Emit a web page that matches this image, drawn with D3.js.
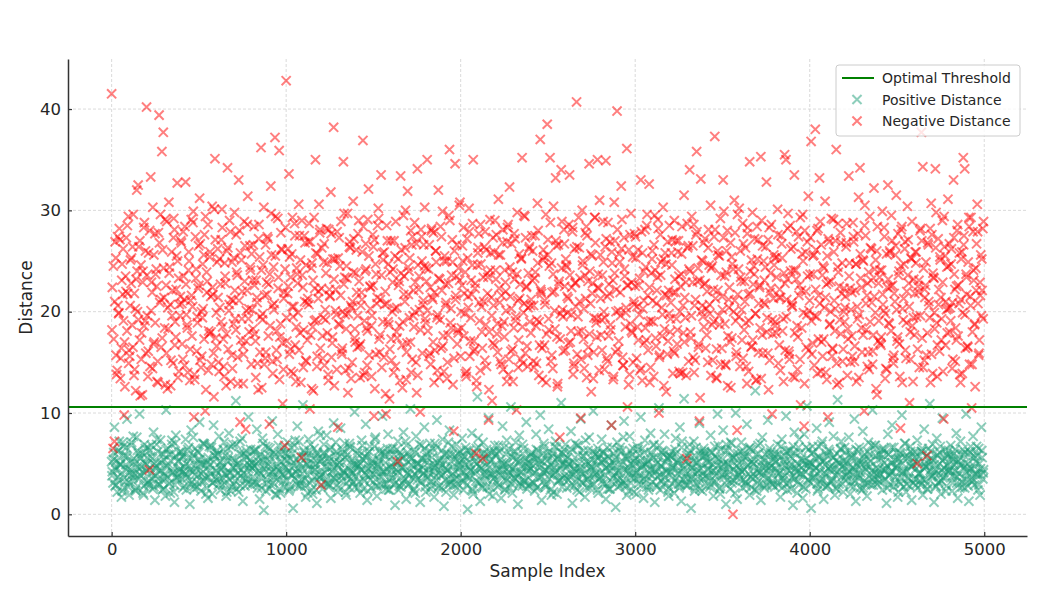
<!DOCTYPE html>
<html>
<head>
<meta charset="utf-8">
<script src="https://cdn.jsdelivr.net/npm/d3@7"></script>
<style>
  body { margin: 0; background: #fff; }
  svg { font-family: "DejaVu Sans", sans-serif; }
</style>
</head>
<body>
<div id="chart"></div>
<script>
// subset of the 5000 samples: set A sits at index i*8, set B at i*8+4, set C at i*8+2
const SAMPLE_STEP = 8;
const OFFSET_B = 4;
const OFFSET_C = 2;
const threshold = 10.6;
const xTicks = [0, 1000, 2000, 3000, 4000, 5000];
const yTicks = [0, 10, 20, 30, 40];

const negativeDistance = [
  41.5, 6.5, 7.2, 25.3, 14.2, 19.8, 27.1, 16.4, 21.7, 9.8, 23.5, 18.1, 29.4, 15.6, 22.8, 26.4, 13.7, 20.3, 32.0, 32.5, 17.2, 24.6, 11.8, 28.3, 19.1,
  40.2, 13.6, 4.4, 33.3, 21.9, 16.8, 27.7, 24.2, 15.1, 39.4, 29.6, 35.8, 37.7, 18.4, 22.6, 12.4, 30.8, 20.7, 25.9, 14.9, 28.1, 17.5, 32.7, 23.3, 19.6,
  26.8, 15.3, 21.2, 32.8, 18.7, 24.1, 13.2, 29.1, 20.5, 9.6, 27.4, 16.1, 22.3, 31.2, 14.5, 19.4, 25.6, 10.2, 23.9, 28.6, 17.8, 21.5, 30.4, 15.9, 35.1,
  19.9, 26.2, 14.1, 22.7, 30.1, 17.3, 24.8, 12.7, 34.2, 20.1, 27.9, 15.7, 21.1, 29.8, 18.2, 23.6, 33.0, 9.1, 25.1, 16.6, 28.9, 8.4, 22.1, 19.3, 26.5,
  14.8, 23.1, 28.4, 17.1, 21.4, 12.3, 25.4, 36.2, 19.2, 30.3, 15.4, 22.9, 27.2, 8.9, 32.4, 20.6, 24.4, 37.2, 16.2, 29.2, 35.9, 18.8, 26.1, 14.3, 6.8,
  42.8, 21.8, 33.6, 16.3, 25.7, 19.5, 28.7, 13.1, 23.7, 30.6, 17.9, 5.6, 22.4, 27.5, 15.2, 20.9, 26.9, 10.4, 24.3, 18.5, 29.3, 35.0, 14.6, 21.3, 27.8,
  2.9, 17.6, 24.9, 20.2, 28.2, 13.8, 22.2, 31.8, 16.9, 38.2, 25.2, 19.7, 8.6, 27.3, 21.6, 15.8, 34.8, 23.4, 18.3, 29.7, 14.4, 26.3, 20.4, 30.9, 17.4,
  23.8, 16.5, 29.0, 13.5, 21.9, 36.9, 19.1, 26.7, 14.7, 32.1, 22.5, 18.6, 27.6, 9.7, 24.7, 20.8, 30.2, 16.0, 33.5, 25.8, 15.5, 22.0, 28.5, 19.0, 11.4,
  27.0, 20.0, 14.0, 25.5, 18.0, 5.2, 23.0, 33.4, 16.7, 29.5, 21.0, 13.3, 31.9, 24.0, 17.0, 26.6, 19.6, 28.8, 15.0, 34.1, 22.2, 10.1, 27.4, 20.7, 24.5,
  18.9, 35.0, 24.2, 15.9, 28.0, 21.2, 13.0, 26.0, 19.4, 32.0, 23.2, 16.4, 29.9, 14.1, 22.7, 25.0, 17.7, 36.0, 20.3, 27.1, 8.2, 34.6, 23.5, 18.2, 30.5,
  15.6, 22.6, 28.3, 19.8, 13.6, 25.3, 30.2, 17.1, 21.7, 35.0, 16.3, 6.0, 24.6, 27.7, 14.2, 20.5, 5.5, 26.4, 18.7, 23.8, 9.3, 29.1, 21.4, 16.9, 25.9,
  24.1, 17.8, 31.1, 20.9, 14.8, 26.8, 19.0, 22.9, 13.1, 28.6, 32.3, 16.1, 23.9, 18.4, 27.2, 10.3, 21.1, 25.7, 15.3, 35.2, 19.9, 29.4, 22.4, 14.6, 26.2,
  20.6, 27.5, 15.1, 23.3, 18.6, 30.7, 13.7, 37.0, 21.8, 25.1, 16.7, 29.6, 38.5, 19.3, 35.2, 24.8, 14.4, 22.0, 33.2, 17.5, 26.6, 7.6, 34.0, 20.2, 28.1,
  16.2, 24.4, 21.3, 33.5, 18.1, 27.9, 14.9, 22.8, 40.7, 19.5, 26.3, 9.5, 30.0, 17.3, 23.6, 28.4, 15.7, 34.6, 20.8, 25.5, 13.4, 29.3, 18.9, 35.0, 22.3,
  25.6, 19.2, 28.9, 14.3, 34.9, 21.5, 17.6, 26.9, 8.8, 23.1, 30.8, 16.0, 39.8, 20.1, 24.9, 32.4, 15.5, 27.3, 18.5, 36.1, 22.6, 13.8, 29.7, 17.9, 21.0,
  22.5, 15.4, 26.1, 19.7, 33.0, 13.2, 24.0, 28.1, 17.2, 21.6, 32.6, 14.5, 25.2, 19.0, 29.5, 16.6, 23.4, 10.0, 27.6, 20.4, 30.3, 18.3, 24.7, 15.8, 22.1,
  18.0, 25.8, 13.9, 29.0, 21.9, 16.8, 27.0, 20.0, 23.7, 14.0, 31.5, 19.4, 5.5, 26.5, 34.0, 17.4, 22.9, 28.6, 15.2, 35.8, 24.3, 9.2, 33.1, 20.6, 26.8,
  27.2, 20.3, 15.0, 24.6, 30.5, 18.7, 22.2, 37.3, 13.5, 26.0, 19.6, 29.2, 16.4, 33.0, 23.5, 14.7, 28.0, 21.2, 17.0, 25.4, 0.0, 31.0, 19.1, 8.3, 24.2,
  14.6, 23.0, 28.7, 18.2, 26.3, 12.9, 21.7, 34.8, 16.5, 29.8, 24.5, 19.8, 13.3, 27.1, 22.4, 35.3, 17.7, 25.0, 20.7, 32.8, 15.9, 28.3, 23.8, 9.9, 21.3,
  25.3, 17.9, 30.1, 21.4, 14.2, 26.7, 19.3, 35.5, 35.0, 23.2, 16.1, 28.5, 20.9, 13.6, 33.5, 24.1, 18.6, 27.4, 15.3, 22.1, 29.6, 8.7, 25.9, 19.7, 31.4,
  21.1, 36.8, 16.9, 25.6, 38.0, 19.5, 28.2, 33.2, 14.1, 23.6, 17.3, 30.9, 22.7, 9.6, 26.9, 20.0, 15.6, 29.1, 18.1, 36.0, 24.4, 13.0, 27.8, 21.8, 16.3,
  19.0, 26.4, 13.7, 33.4, 22.3, 17.6, 28.8, 15.1, 24.7, 20.5, 31.3, 34.2, 18.4, 25.1, 10.2, 27.5, 21.6, 16.0, 29.4, 23.1, 14.8, 32.2, 19.9, 26.0, 17.1,
  23.4, 16.7, 29.9, 20.1, 13.4, 25.7, 32.5, 18.8, 22.5, 27.0, 14.9, 21.0, 31.5, 17.5, 24.0, 8.5, 28.4, 19.2, 26.2, 15.4, 30.4, 22.8, 18.0, 25.2, 13.1,
  17.7, 24.8, 5.0, 21.9, 28.0, 37.7, 34.3, 15.2, 22.6, 5.8, 26.6, 19.4, 30.7, 13.9, 23.3, 34.1, 18.9, 27.2, 16.1, 21.4, 29.0, 9.4, 25.5, 20.2, 31.1,
  26.7, 19.1, 14.4, 33.0, 22.2, 17.2, 28.6, 20.8, 13.0, 25.9, 35.2, 34.1, 23.7, 16.6, 29.3, 21.5, 10.5, 27.9, 18.7, 24.3, 30.6, 15.7, 22.9, 19.6, 28.2
];

const negativeDistanceB = [
  22.4, 17.3, 26.9, 13.8, 20.6, 28.2, 15.4, 24.7, 19.1, 12.6, 27.3, 21.8, 16.2, 25.1, 18.7, 29.6, 14.3, 23.2, 20.0, 26.4, 11.7, 17.9, 24.0, 28.8, 15.9,
  19.6, 25.8, 14.6, 22.9, 30.3, 17.0, 23.7, 13.1, 27.8, 20.9, 16.5, 26.1, 21.4, 12.8, 28.9, 18.3, 24.4, 15.2, 22.1, 29.2, 19.0, 25.5, 13.5, 20.7, 27.0,
  16.8, 23.5, 28.4, 19.7, 14.0, 25.0, 21.1, 17.6, 29.9, 13.3, 24.2, 18.9, 22.6, 26.7, 15.6, 20.3, 27.6, 12.3, 23.0, 18.1, 25.9, 14.8, 21.7, 30.1, 17.4,
  24.9, 15.0, 20.4, 27.1, 18.5, 13.6, 22.8, 26.0, 16.3, 29.0, 21.2, 14.4, 25.3, 19.3, 23.9, 12.9, 28.0, 17.2, 22.0, 15.8, 26.5, 20.1, 31.4, 18.0, 24.1,
  20.2, 26.6, 17.8, 23.1, 14.9, 28.6, 19.5, 12.5, 24.6, 21.6, 16.0, 27.4, 22.7, 18.6, 25.6, 13.9, 20.8, 29.4, 15.3, 23.4, 17.5, 26.2, 10.9, 21.9, 28.3,
  17.1, 22.5, 25.4, 14.1, 29.3, 20.5, 16.7, 24.3, 19.9, 27.5, 13.0, 23.6, 18.2, 26.8, 15.1, 21.3, 28.7, 17.7, 24.8, 12.2, 22.3, 19.2, 25.7, 30.6, 16.4,
  26.3, 19.4, 14.7, 23.8, 17.9, 28.1, 21.5, 15.5, 25.2, 12.7, 22.2, 27.9, 18.8, 24.5, 16.1, 20.0, 29.7, 14.2, 23.3, 19.8, 26.9, 13.4, 21.0, 27.2, 17.0,
  21.9, 27.7, 16.6, 20.6, 25.9, 13.7, 24.0, 18.4, 29.1, 15.7, 22.4, 19.6, 26.4, 12.4, 23.7, 28.5, 17.3, 21.2, 14.5, 25.1, 20.7, 9.9, 27.0, 18.7, 23.9,
  15.2, 24.2, 20.3, 28.9, 17.4, 22.6, 13.2, 26.1, 19.0, 23.5, 30.0, 16.9, 21.7, 25.3, 14.0, 27.4, 18.5, 22.9, 12.0, 24.6, 20.2, 28.1, 15.9, 26.6, 19.3,
  23.0, 18.1, 26.6, 14.8, 21.4, 27.8, 16.2, 24.9, 19.7, 13.5, 28.4, 22.1, 17.6, 25.5, 20.9, 15.0, 29.5, 18.9, 23.6, 12.8, 26.0, 21.6, 16.8, 24.3, 30.8,
  18.4, 25.0, 21.8, 13.9, 27.2, 20.4, 15.6, 23.1, 28.7, 17.1, 22.8, 12.6, 26.3, 19.1, 24.7, 16.4, 21.0, 27.9, 14.6, 23.4, 18.0, 25.8, 11.2, 20.6, 29.0,
  27.6, 16.0, 22.3, 25.6, 18.6, 14.3, 24.1, 20.1, 28.3, 15.3, 21.5, 26.7, 13.1, 23.2, 19.5, 29.8, 17.2, 22.7, 25.2, 14.9, 20.8, 27.3, 16.6, 23.8, 19.0,
  21.2, 26.0, 14.5, 23.9, 19.2, 28.0, 16.7, 22.0, 13.3, 25.4, 20.7, 17.8, 27.1, 24.5, 15.1, 21.9, 30.4, 18.3, 26.5, 12.9, 23.0, 19.8, 28.9, 16.1, 22.5,
  24.6, 19.9, 28.6, 17.0, 22.4, 13.8, 26.2, 20.5, 15.8, 29.3, 23.3, 18.1, 25.0, 14.4, 21.3, 27.5, 16.5, 24.0, 12.1, 22.8, 19.4, 26.8, 17.5, 23.7, 31.0,
  17.7, 23.6, 20.0, 26.4, 15.4, 28.8, 21.8, 18.2, 24.8, 13.6, 27.0, 22.2, 16.3, 25.7, 19.6, 29.1, 14.7, 23.5, 20.4, 10.6, 26.1, 18.8, 22.9, 15.0, 27.7,
  25.3, 18.5, 22.6, 14.2, 27.9, 20.3, 16.9, 24.4, 29.6, 19.0, 13.0, 23.8, 21.1, 26.6, 17.4, 22.1, 28.2, 15.7, 24.9, 19.7, 12.7, 25.8, 21.6, 17.1, 28.5,
  20.9, 27.1, 16.1, 23.2, 19.3, 25.9, 14.1, 22.5, 28.4, 17.9, 21.4, 13.7, 26.3, 24.2, 18.0, 29.4, 15.5, 20.6, 27.6, 23.0, 16.8, 11.5, 25.1, 19.5, 22.7,
  16.4, 22.0, 28.1, 19.8, 24.3, 15.2, 27.4, 21.3, 13.4, 25.6, 18.7, 23.6, 20.2, 29.9, 14.8, 26.0, 17.6, 22.4, 12.5, 24.7, 20.0, 27.8, 16.0, 21.7, 30.2,
  23.4, 17.2, 26.7, 21.0, 14.6, 28.3, 19.1, 24.0, 16.6, 22.7, 27.2, 13.2, 25.2, 20.8, 18.4, 29.0, 15.9, 23.1, 26.4, 19.4, 12.3, 21.9, 28.6, 17.8, 24.6,
  19.0, 25.4, 14.9, 22.2, 27.5, 18.1, 23.8, 16.2, 21.2, 29.7, 15.3, 26.2, 20.5, 24.1, 13.5, 27.9, 17.5, 22.6, 10.8, 25.7, 19.9, 28.0, 16.5, 23.5, 20.1,
  27.3, 15.8, 23.7, 19.6, 26.1, 13.9, 21.6, 28.9, 17.0, 24.5, 20.4, 14.0, 25.5, 22.9, 18.8, 29.2, 16.3, 21.1, 27.0, 12.8, 23.9, 19.2, 26.8, 15.1, 22.3,
  21.5, 28.7, 17.3, 24.8, 20.2, 15.6, 26.9, 22.1, 13.1, 27.7, 19.7, 23.3, 16.0, 25.0, 30.5, 18.2, 22.8, 14.3, 26.3, 20.9, 17.7, 24.2, 12.4, 28.4, 19.1,
  16.9, 24.1, 20.7, 27.4, 14.4, 22.4, 18.9, 25.8, 29.5, 15.4, 21.8, 26.5, 17.1, 23.6, 13.6, 28.1, 20.3, 24.7, 16.2, 22.0, 27.1, 11.0, 25.3, 18.6, 23.2,
  25.9, 19.5, 22.5, 14.5, 28.2, 17.4, 24.3, 21.4, 15.7, 26.8, 20.6, 13.0, 27.6, 23.4, 18.3, 29.8, 16.7, 22.2, 25.1, 19.3, 14.1, 26.4, 21.0, 17.9, 24.5,
  20.4, 26.2, 15.3, 23.7, 18.4, 28.0, 22.6, 13.8, 25.2, 19.9, 27.5, 16.4, 21.7, 24.9, 14.8, 29.3, 18.0, 23.1, 12.6, 26.7, 20.8, 17.2, 25.6, 22.1, 28.9
];

const negativeDistanceC = [
  18.2, 24.5, 21.0, 15.7, 27.4, 19.9, 13.4, 23.1, 26.2, 17.0, 22.0, 28.5, 14.9, 20.6, 25.3, 16.5, 21.8, 12.2, 24.0, 19.2, 27.0, 15.3, 22.9, 18.6, 26.0,
  23.6, 16.1, 28.0, 20.1, 14.4, 25.6, 18.9, 22.5, 13.0, 26.8, 21.2, 17.4, 24.3, 29.1, 15.9, 20.4, 23.8, 12.7, 19.6, 27.3, 16.7, 22.2, 25.0, 14.1, 21.5,
  20.8, 27.9, 14.7, 22.7, 18.4, 25.9, 16.3, 21.6, 28.8, 13.8, 23.3, 19.5, 26.5, 15.2, 20.0, 24.7, 17.3, 29.4, 21.9, 14.2, 25.4, 18.0, 22.4, 11.6, 27.1,
  16.6, 21.4, 25.2, 19.0, 28.3, 14.6, 23.5, 17.8, 26.3, 20.7, 13.1, 24.9, 18.8, 22.1, 27.6, 15.5, 21.1, 25.8, 19.3, 12.9, 23.0, 17.1, 28.6, 20.3, 24.4,
  25.7, 18.3, 22.6, 13.5, 20.9, 27.2, 16.0, 24.1, 19.8, 14.8, 26.6, 21.7, 17.6, 23.7, 29.7, 15.1, 20.2, 25.5, 18.1, 22.3, 13.3, 27.8, 16.9, 21.3, 24.2,
  19.4, 26.2, 15.8, 23.4, 20.5, 13.9, 27.5, 18.5, 22.8, 16.2, 25.1, 29.0, 14.5, 21.0, 24.6, 17.2, 20.7, 26.9, 12.4, 23.1, 19.1, 25.8, 15.6, 22.0, 28.1,
  22.3, 15.4, 26.7, 19.2, 24.8, 13.2, 21.6, 27.7, 17.5, 23.2, 20.1, 14.3, 25.3, 18.7, 28.9, 16.4, 22.7, 19.7, 24.5, 12.0, 26.4, 20.6, 15.0, 23.9, 18.3,
  26.1, 19.6, 23.0, 16.8, 21.2, 28.4, 14.0, 24.2, 18.1, 25.5, 20.3, 13.6, 22.6, 27.1, 15.8, 21.4, 29.2, 17.7, 23.6, 19.0, 25.9, 11.9, 20.8, 24.7, 16.3,
  17.3, 22.9, 27.0, 14.6, 20.4, 25.2, 18.6, 23.8, 12.5, 21.7, 26.3, 16.0, 24.4, 19.4, 28.0, 15.3, 22.1, 20.0, 26.7, 13.7, 23.5, 18.2, 25.0, 21.1, 30.3,
  24.3, 20.1, 15.6, 22.4, 28.2, 17.0, 21.9, 26.0, 14.2, 23.3, 19.2, 27.4, 16.6, 25.0, 20.6, 13.4, 22.8, 29.0, 18.4, 24.9, 15.4, 21.2, 26.6, 17.9, 23.1,
  20.0, 26.5, 17.6, 23.9, 14.1, 21.5, 27.9, 19.4, 24.6, 16.1, 22.3, 13.2, 25.8, 20.9, 28.6, 18.0, 23.4, 15.2, 26.1, 21.8, 12.3, 24.1, 19.6, 27.3, 16.7,
  23.2, 18.8, 25.6, 15.1, 21.6, 28.1, 17.5, 22.0, 26.9, 13.8, 24.4, 20.3, 16.3, 27.7, 19.1, 23.7, 14.5, 21.3, 25.3, 18.5, 29.5, 15.9, 22.5, 20.4, 26.4,
  17.9, 23.1, 20.6, 27.5, 14.9, 24.8, 19.0, 22.2, 16.4, 26.1, 21.1, 13.0, 25.6, 18.2, 28.8, 15.7, 23.7, 20.1, 27.0, 12.6, 22.7, 17.3, 24.3, 19.5, 26.7,
  25.2, 21.5, 16.9, 23.6, 19.7, 28.3, 14.6, 22.9, 26.4, 18.0, 21.0, 15.3, 24.6, 20.3, 27.8, 13.5, 23.0, 17.8, 25.7, 21.8, 16.0, 29.3, 19.3, 22.4, 14.2,
  21.3, 16.2, 24.9, 19.4, 27.2, 15.1, 22.7, 18.7, 25.9, 13.3, 23.8, 20.0, 28.1, 17.1, 21.9, 26.2, 14.7, 24.2, 19.9, 22.6, 12.8, 27.6, 18.1, 25.4, 20.7,
  27.4, 20.5, 17.2, 23.3, 14.4, 25.8, 21.1, 18.4, 28.5, 16.2, 22.4, 19.1, 26.0, 13.6, 24.1, 20.8, 29.1, 15.5, 23.6, 17.6, 25.2, 21.7, 12.1, 26.9, 19.8,
  19.3, 24.6, 21.9, 15.9, 27.0, 18.2, 23.5, 13.9, 25.7, 20.6, 17.0, 22.9, 28.7, 15.1, 24.0, 19.6, 26.5, 14.0, 21.2, 27.9, 16.5, 23.1, 20.0, 25.0, 18.5,
  22.8, 17.7, 26.3, 20.7, 13.7, 24.5, 19.0, 28.1, 16.3, 22.1, 25.5, 14.8, 21.5, 27.3, 18.8, 23.9, 12.7, 20.4, 26.8, 17.4, 24.2, 21.1, 15.6, 29.6, 19.5,
  26.0, 20.2, 15.4, 23.0, 18.9, 27.7, 14.1, 21.8, 25.1, 17.2, 23.7, 19.8, 28.4, 16.0, 22.6, 13.4, 26.5, 20.9, 24.4, 18.0, 27.1, 15.2, 22.3, 19.2, 25.6,
  18.6, 23.4, 27.6, 16.7, 21.4, 25.3, 13.1, 22.8, 19.5, 28.2, 15.8, 24.0, 20.6, 26.4, 17.9, 23.2, 14.3, 21.6, 29.3, 18.4, 25.0, 12.9, 22.0, 26.9, 16.2,
  23.7, 19.1, 25.5, 14.7, 22.2, 28.0, 17.3, 20.8, 26.6, 15.6, 24.3, 21.4, 13.3, 27.2, 18.7, 23.0, 16.4, 25.9, 20.3, 14.9, 28.7, 22.5, 17.8, 24.8, 20.0,
  20.4, 26.8, 18.3, 23.5, 15.0, 21.9, 27.4, 16.6, 24.7, 19.3, 13.5, 25.7, 22.4, 17.7, 28.5, 20.8, 14.6, 23.9, 19.0, 26.2, 16.1, 21.5, 25.1, 11.8, 22.8,
  24.1, 17.5, 21.7, 28.3, 19.8, 14.3, 23.2, 26.0, 18.1, 22.6, 15.7, 25.6, 20.2, 27.7, 16.8, 24.5, 13.0, 21.3, 26.9, 18.9, 23.6, 20.5, 15.3, 28.9, 19.4,
  21.8, 25.9, 16.3, 23.1, 19.6, 27.0, 14.5, 22.2, 24.9, 17.9, 21.0, 28.2, 15.8, 23.8, 19.9, 26.3, 13.6, 20.7, 25.4, 17.2, 22.9, 29.4, 16.7, 24.4, 20.3,
  18.0, 24.7, 20.9, 27.3, 15.1, 22.5, 17.6, 25.8, 21.2, 13.9, 26.6, 19.7, 23.4, 16.5, 28.4, 20.6, 14.8, 24.1, 18.8, 22.1, 27.9, 15.9, 21.6, 25.2, 19.3
];

const positiveDistance = [
  5.2, 3.1, 8.6, 4.4, 2.2, 6.3, 4.9, 1.7, 7.1, 3.6, 5.8, 9.4, 2.7, 4.1, 6.8, 3.3, 5.5, 2.4, 7.6, 4.6, 9.9, 3.8, 6.0, 1.9, 5.0,
  4.3, 6.6, 2.9, 5.7, 3.5, 8.1, 1.4, 4.8, 6.2, 3.0, 7.3, 5.1, 2.5, 4.0, 10.3, 3.7, 5.9, 2.1, 6.9, 4.5, 1.2, 7.8, 3.4, 5.3, 4.2,
  6.1, 2.6, 4.7, 7.4, 3.9, 5.6, 1.0, 8.3, 4.2, 2.8, 6.5, 3.2, 5.4, 9.1, 2.3, 4.9, 7.0, 3.6, 5.1, 1.6, 6.7, 4.0, 2.0, 8.8, 5.8,
  3.4, 5.9, 7.7, 2.4, 4.6, 6.4, 3.1, 1.8, 5.3, 8.0, 4.1, 2.7, 6.9, 3.8, 11.2, 5.0, 2.2, 7.2, 4.4, 1.3, 6.0, 3.5, 5.6, 9.6, 4.8,
  2.9, 4.5, 6.3, 3.2, 8.4, 5.2, 1.5, 4.0, 7.5, 0.4, 5.7, 3.0, 6.6, 2.5, 4.7, 9.2, 3.7, 5.9, 1.9, 7.9, 4.3, 2.1, 6.2, 3.3, 5.4,
  4.6, 7.1, 2.3, 5.5, 3.9, 0.6, 6.8, 4.2, 8.7, 2.8, 5.0, 3.4, 10.8, 6.1, 1.7, 4.9, 7.4, 3.1, 5.8, 2.0, 6.5, 4.4, 1.1, 8.2, 3.6,
  5.3, 2.5, 6.9, 4.1, 7.8, 3.0, 5.6, 1.6, 4.7, 9.0, 3.5, 6.2, 2.2, 5.1, 8.5, 3.8, 4.3, 7.0, 1.9, 5.9, 2.7, 6.6, 4.0, 3.2, 10.1,
  3.7, 6.0, 4.8, 2.1, 7.3, 5.4, 3.3, 8.9, 1.4, 4.5, 6.7, 2.6, 5.2, 3.9, 7.6, 1.8, 4.9, 6.3, 2.9, 9.7, 4.2, 5.7, 3.0, 7.9, 2.4,
  6.4, 3.6, 5.1, 0.9, 4.4, 7.2, 2.8, 5.8, 3.1, 8.1, 4.7, 1.5, 6.1, 3.9, 10.4, 5.5, 2.3, 4.0, 7.7, 3.4, 5.0, 1.2, 6.8, 4.6, 8.6,
  2.2, 5.6, 4.1, 7.0, 3.2, 6.5, 1.7, 4.8, 9.3, 2.6, 5.3, 3.8, 7.4, 0.8, 4.5, 6.0, 2.9, 8.3, 3.5, 5.9, 1.9, 4.2, 6.9, 3.0, 5.1,
  4.9, 7.5, 2.4, 5.7, 3.7, 0.5, 6.3, 4.3, 8.0, 2.0, 5.2, 3.3, 11.6, 6.6, 1.3, 4.6, 7.1, 3.9, 5.5, 2.7, 9.5, 4.0, 6.1, 1.8, 3.6,
  5.8, 3.1, 6.8, 4.4, 1.6, 8.7, 5.0, 2.5, 7.3, 3.8, 4.7, 10.6, 2.1, 6.2, 3.5, 5.4, 1.0, 7.8, 4.1, 2.8, 6.5, 3.3, 9.1, 5.1, 4.3,
  3.0, 6.1, 4.8, 2.3, 7.9, 5.5, 3.6, 9.8, 1.4, 4.2, 6.7, 2.7, 5.3, 8.4, 3.9, 1.9, 6.0, 4.6, 7.2, 2.0, 5.7, 3.4, 11.0, 4.9, 6.4,
  6.9, 2.6, 5.0, 3.7, 8.2, 1.1, 4.5, 7.0, 3.2, 5.9, 2.2, 9.4, 4.0, 6.3, 1.7, 5.2, 3.5, 7.6, 2.9, 4.7, 10.2, 3.9, 6.0, 2.4, 5.6,
  4.1, 7.4, 3.0, 5.4, 1.5, 6.6, 4.8, 2.5, 8.8, 3.6, 5.1, 0.7, 7.1, 4.3, 2.8, 6.2, 3.3, 9.2, 5.7, 1.9, 4.6, 7.7, 3.1, 5.9, 2.2,
  5.5, 2.0, 6.4, 3.8, 9.6, 4.9, 1.6, 7.3, 3.4, 5.2, 2.7, 8.0, 4.4, 6.8, 1.2, 5.0, 3.7, 10.5, 2.4, 6.1, 4.0, 7.9, 3.1, 5.6, 1.8,
  3.9, 6.2, 4.6, 2.1, 7.5, 5.3, 3.0, 8.6, 1.3, 4.8, 11.4, 2.9, 5.8, 3.5, 6.9, 0.6, 4.2, 7.2, 2.6, 5.1, 3.7, 9.0, 4.5, 2.3, 6.5,
  6.0, 2.8, 5.1, 3.6, 7.8, 4.3, 1.8, 6.7, 3.2, 9.9, 5.4, 2.0, 4.7, 8.3, 3.9, 1.0, 6.3, 4.9, 2.5, 7.0, 5.6, 3.3, 10.0, 1.5, 4.1,
  4.4, 7.1, 2.6, 5.7, 3.1, 8.9, 4.9, 1.9, 6.4, 3.5, 5.0, 12.2, 2.3, 6.8, 4.1, 1.4, 7.6, 3.8, 5.3, 2.9, 9.3, 4.6, 6.1, 3.0, 5.9,
  2.7, 5.2, 6.9, 4.0, 1.7, 7.4, 3.3, 5.8, 9.7, 2.4, 4.8, 6.3, 3.6, 0.9, 8.1, 4.5, 2.1, 6.6, 3.9, 5.5, 1.6, 7.9, 4.2, 10.7, 3.4,
  5.1, 0.6, 6.7, 3.7, 4.6, 8.5, 2.5, 5.6, 3.1, 7.2, 1.5, 4.9, 6.0, 2.8, 9.1, 4.3, 3.5, 7.7, 1.9, 5.3, 11.3, 3.0, 6.4, 4.7, 2.2,
  6.6, 3.4, 4.1, 7.6, 2.0, 5.7, 3.9, 9.4, 1.3, 4.8, 6.2, 2.6, 5.2, 8.2, 3.3, 4.5, 1.8, 7.1, 5.9, 2.9, 10.3, 3.6, 6.8, 4.0, 5.4,
  3.2, 5.9, 2.4, 6.5, 4.3, 1.1, 7.9, 3.8, 5.1, 8.8, 2.7, 4.6, 6.1, 1.7, 5.5, 3.0, 9.8, 4.2, 7.0, 2.2, 5.8, 3.5, 6.7, 1.4, 4.9,
  5.6, 2.9, 7.3, 4.0, 3.3, 6.2, 1.9, 8.4, 4.7, 2.5, 5.3, 10.9, 3.7, 6.9, 1.2, 4.4, 7.5, 3.1, 5.0, 2.0, 9.5, 4.1, 6.4, 2.8, 5.7,
  4.3, 6.8, 2.3, 5.4, 3.8, 8.0, 1.6, 4.9, 7.2, 3.2, 5.9, 2.6, 9.9, 4.5, 1.3, 6.1, 3.6, 7.7, 2.9, 5.2, 4.0, 6.5, 1.9, 8.6, 3.5
];

const positiveDistanceB = [
  4.2, 6.1, 2.8, 5.3, 3.7, 7.2, 4.9, 2.3, 5.8, 3.2, 6.6, 4.5, 1.9, 5.1, 3.9, 7.7, 4.0, 2.6, 6.3, 3.5, 5.5, 4.7, 2.1, 6.9, 3.0,
  5.6, 3.3, 4.6, 6.8, 2.5, 5.0, 3.8, 7.4, 4.3, 2.9, 6.0, 3.4, 5.4, 1.8, 4.8, 6.5, 3.1, 5.9, 4.1, 2.2, 7.0, 3.6, 5.2, 4.4, 6.2,
  3.5, 5.7, 4.0, 2.4, 6.4, 4.8, 3.0, 5.5, 7.6, 3.9, 4.5, 2.7, 6.1, 5.0, 3.3, 4.2, 6.9, 2.0, 5.3, 3.7, 4.9, 6.6, 3.1, 5.8, 4.3,
  6.3, 2.9, 5.1, 4.4, 3.6, 7.1, 4.0, 2.2, 5.6, 3.4, 6.7, 4.7, 3.0, 5.3, 2.5, 4.6, 6.0, 3.8, 7.5, 4.1, 2.8, 5.7, 3.5, 4.9, 6.4,
  4.6, 3.2, 6.2, 5.0, 2.6, 4.3, 5.9, 3.6, 7.0, 4.8, 2.3, 5.4, 3.9, 6.5, 4.2, 3.1, 5.7, 2.0, 4.7, 6.8, 3.4, 5.2, 4.0, 2.7, 6.0,
  5.3, 4.1, 2.5, 6.6, 3.8, 5.1, 7.3, 3.0, 4.5, 5.8, 2.8, 4.0, 6.3, 3.5, 5.6, 2.1, 4.8, 6.9, 3.3, 5.0, 4.4, 2.4, 5.9, 3.7, 7.8,
  3.9, 6.0, 4.7, 3.1, 5.5, 2.7, 6.4, 4.2, 3.6, 5.2, 7.1, 2.9, 4.6, 5.7, 3.3, 6.1, 4.0, 2.2, 5.4, 3.8, 6.7, 4.3, 3.0, 5.0, 4.9,
  5.0, 2.6, 5.8, 4.4, 6.8, 3.5, 4.1, 5.6, 2.3, 6.2, 3.9, 4.8, 3.2, 7.4, 4.5, 2.8, 5.3, 6.0, 3.7, 4.2, 5.9, 2.5, 6.5, 3.4, 4.7,
  4.4, 6.5, 3.0, 5.2, 3.8, 2.4, 6.1, 4.6, 5.5, 3.3, 7.2, 4.0, 2.9, 5.7, 4.9, 3.6, 6.4, 2.1, 5.0, 4.3, 6.9, 3.1, 5.4, 4.1, 2.7,
  6.0, 3.7, 4.8, 2.5, 5.6, 4.2, 7.0, 3.4, 5.1, 2.8, 4.6, 6.3, 3.9, 5.3, 2.2, 4.4, 5.9, 3.2, 6.7, 4.0, 3.5, 5.5, 2.6, 4.9, 6.2,
  3.3, 5.4, 4.1, 6.6, 2.9, 4.7, 3.6, 5.8, 2.3, 6.1, 4.3, 5.0, 7.5, 3.1, 4.5, 2.6, 5.7, 3.8, 6.4, 4.9, 2.0, 5.2, 4.0, 3.5, 6.8,
  4.8, 2.7, 6.2, 3.9, 5.1, 4.4, 2.4, 5.9, 3.4, 6.5, 4.1, 3.0, 5.6, 4.6, 7.1, 3.7, 2.8, 5.3, 4.2, 6.0, 3.2, 5.0, 2.5, 4.7, 5.7,
  5.9, 4.0, 3.1, 5.5, 2.6, 6.3, 4.6, 3.7, 5.2, 7.0, 2.9, 4.3, 6.1, 3.5, 4.9, 5.7, 2.2, 4.1, 6.6, 3.3, 5.4, 4.5, 2.7, 6.0, 3.8,
  3.6, 5.6, 4.9, 2.8, 6.4, 3.9, 5.1, 4.2, 2.4, 6.8, 4.6, 3.2, 5.8, 4.0, 7.3, 3.4, 5.0, 2.6, 4.4, 6.2, 3.7, 5.3, 4.8, 2.1, 5.9,
  5.2, 3.3, 6.0, 4.5, 3.0, 5.7, 2.5, 4.8, 6.6, 3.8, 5.4, 4.1, 2.7, 6.3, 3.5, 4.9, 7.6, 3.1, 5.5, 4.3, 2.3, 5.0, 4.0, 6.5, 3.6,
  4.1, 6.7, 3.5, 5.3, 2.9, 4.7, 6.1, 3.8, 5.0, 2.4, 4.5, 5.9, 3.2, 6.9, 4.2, 2.7, 5.6, 3.9, 4.8, 6.3, 3.0, 5.2, 4.4, 2.2, 5.8,
  5.7, 3.0, 4.6, 6.4, 3.6, 5.1, 2.6, 4.3, 7.2, 3.4, 5.5, 4.0, 2.9, 6.0, 4.7, 3.7, 5.3, 2.3, 6.6, 4.1, 3.2, 5.8, 4.9, 3.5, 6.2,
  3.8, 5.3, 4.4, 2.7, 6.1, 4.9, 3.3, 5.7, 4.0, 6.8, 2.5, 4.6, 5.4, 3.6, 6.3, 2.9, 5.0, 4.2, 7.1, 3.4, 5.6, 2.1, 4.8, 6.0, 3.9,
  6.2, 4.2, 3.4, 5.6, 2.8, 4.8, 6.5, 3.7, 5.2, 4.0, 2.4, 5.9, 3.1, 4.5, 7.0, 3.9, 5.4, 2.6, 4.7, 6.1, 3.5, 5.0, 4.3, 2.9, 5.7,
  4.5, 5.9, 2.9, 4.1, 6.7, 3.6, 5.2, 4.8, 3.0, 6.3, 4.3, 2.5, 5.5, 3.8, 6.0, 4.6, 3.2, 7.4, 4.0, 5.3, 2.7, 4.9, 6.6, 3.4, 5.1,
  3.1, 5.0, 6.1, 3.8, 4.6, 2.3, 5.7, 4.2, 6.9, 3.5, 5.3, 4.0, 2.8, 6.4, 4.7, 3.3, 5.6, 4.4, 2.6, 6.0, 3.9, 5.1, 7.2, 3.0, 4.8,
  5.4, 3.9, 4.7, 6.3, 3.2, 5.8, 2.7, 4.4, 5.0, 3.6, 6.6, 4.1, 2.4, 5.5, 3.0, 4.9, 6.2, 3.7, 5.2, 4.3, 2.9, 6.8, 4.6, 3.4, 5.9,
  4.0, 6.4, 3.3, 5.1, 4.5, 2.6, 5.9, 3.9, 6.6, 4.2, 3.1, 5.4, 4.8, 2.2, 6.1, 3.6, 5.0, 4.3, 7.0, 3.0, 5.6, 2.8, 4.7, 6.0, 3.5,
  6.1, 3.5, 5.2, 4.0, 2.9, 6.5, 4.6, 3.4, 5.7, 2.5, 4.9, 6.2, 3.8, 5.3, 4.1, 2.7, 5.9, 3.2, 6.7, 4.4, 3.6, 5.5, 2.3, 4.8, 6.3,
  4.7, 5.5, 3.1, 6.0, 4.3, 3.7, 5.3, 2.6, 4.9, 6.4, 3.5, 5.1, 4.2, 2.8, 6.2, 4.5, 3.3, 5.8, 4.0, 6.7, 2.4, 5.0, 3.9, 5.6, 4.4
];

const positiveDistanceC = [
  3.8, 5.4, 4.6, 2.9, 6.2, 3.4, 5.0, 4.1, 6.7, 2.6, 4.9, 5.7, 3.2, 4.4, 7.1, 3.6, 5.2, 2.3, 4.7, 6.0, 3.9, 5.6, 4.2, 2.8, 6.5,
  4.9, 3.1, 6.3, 4.0, 5.5, 2.7, 4.6, 6.9, 3.5, 5.1, 4.3, 2.4, 5.9, 3.8, 6.4, 4.7, 3.0, 5.3, 7.3, 4.1, 2.9, 5.7, 3.7, 6.1, 4.5,
  5.7, 4.2, 2.8, 5.0, 3.6, 6.6, 4.4, 3.2, 5.8, 2.5, 4.8, 6.2, 3.9, 5.4, 4.0, 7.0, 3.3, 4.9, 2.6, 5.6, 4.3, 6.8, 3.1, 5.2, 3.7,
  4.3, 6.0, 3.5, 5.2, 2.9, 4.7, 5.8, 3.8, 6.5, 4.1, 2.3, 5.5, 4.6, 3.3, 6.9, 4.0, 5.1, 2.8, 5.9, 3.6, 4.8, 6.3, 3.0, 4.5, 5.4,
  5.1, 3.7, 4.8, 6.4, 3.0, 5.6, 4.1, 2.6, 5.3, 4.5, 6.7, 3.4, 4.9, 5.8, 2.9, 4.2, 6.1, 3.6, 5.0, 4.4, 2.5, 5.9, 3.9, 6.6, 4.7,
  3.4, 5.9, 4.3, 2.7, 6.0, 4.8, 3.5, 5.4, 4.0, 7.2, 3.1, 4.6, 5.7, 2.8, 5.0, 3.9, 6.3, 4.4, 2.4, 5.5, 3.7, 4.9, 6.1, 3.2, 5.2,
  5.5, 4.0, 6.1, 3.3, 4.7, 5.2, 2.9, 6.6, 4.3, 3.6, 5.8, 4.9, 2.6, 5.1, 3.8, 6.4, 4.2, 5.6, 3.1, 4.6, 7.0, 3.5, 5.3, 4.1, 2.7,
  4.6, 6.3, 3.2, 5.0, 4.4, 2.5, 5.7, 3.9, 6.0, 4.8, 3.4, 5.3, 4.0, 6.7, 2.8, 4.9, 5.5, 3.7, 4.2, 6.2, 3.0, 5.1, 4.5, 2.4, 5.9,
  3.9, 4.7, 5.9, 3.1, 6.4, 4.2, 5.3, 2.7, 4.6, 5.7, 3.5, 6.8, 4.1, 3.0, 5.4, 4.8, 2.5, 6.1, 3.8, 5.0, 4.4, 3.3, 5.6, 4.0, 6.5,
  5.3, 3.5, 4.4, 6.2, 2.8, 5.0, 4.6, 3.8, 6.6, 4.1, 5.5, 2.6, 4.9, 5.9, 3.4, 4.3, 7.1, 3.0, 5.2, 4.7, 2.9, 5.8, 3.6, 6.0, 4.5,
  4.1, 5.8, 3.3, 4.9, 6.3, 3.7, 5.1, 4.4, 2.5, 5.6, 4.0, 6.5, 3.2, 4.7, 5.3, 2.8, 6.0, 4.2, 3.5, 5.9, 4.6, 2.7, 5.4, 3.9, 6.2,
  6.0, 4.4, 2.9, 5.4, 3.8, 4.8, 6.6, 3.3, 5.0, 4.2, 2.6, 5.7, 4.5, 3.6, 6.2, 4.0, 5.2, 3.1, 4.7, 6.9, 3.4, 5.5, 4.3, 2.8, 5.1,
  4.5, 3.2, 5.6, 4.1, 6.4, 2.7, 4.9, 5.3, 3.7, 6.0, 4.4, 3.0, 5.8, 4.6, 2.4, 5.1, 3.9, 6.7, 4.2, 5.5, 3.3, 4.8, 6.1, 3.6, 5.0,
  5.4, 4.7, 3.4, 6.1, 4.0, 5.2, 2.8, 4.5, 6.8, 3.6, 5.0, 4.2, 3.1, 5.7, 4.9, 2.6, 6.3, 3.8, 4.6, 5.4, 3.0, 5.9, 4.1, 6.5, 3.5,
  3.7, 5.1, 6.2, 3.9, 4.6, 2.5, 5.5, 4.3, 3.2, 6.0, 4.8, 5.6, 3.4, 4.1, 6.6, 3.0, 5.2, 4.4, 2.8, 5.8, 4.0, 6.3, 3.6, 4.9, 5.3,
  5.0, 4.3, 3.0, 5.8, 4.6, 6.5, 3.5, 4.9, 2.7, 5.3, 4.0, 6.1, 3.8, 5.6, 4.4, 2.9, 5.1, 6.8, 3.3, 4.7, 5.9, 3.6, 4.2, 5.5, 2.6,
  4.2, 5.6, 4.8, 3.3, 6.0, 4.0, 5.4, 3.0, 6.6, 4.5, 3.7, 5.2, 2.8, 4.9, 6.3, 3.5, 4.6, 5.8, 3.1, 5.1, 4.3, 2.5, 6.2, 4.0, 5.7,
  5.8, 3.6, 4.5, 5.2, 2.9, 6.1, 4.3, 3.8, 5.5, 4.8, 2.6, 6.4, 3.9, 5.0, 4.1, 6.9, 3.4, 4.7, 5.6, 3.1, 4.4, 6.0, 3.7, 5.3, 4.6,
  3.5, 5.2, 6.3, 4.4, 3.2, 5.7, 4.0, 6.6, 2.7, 4.9, 5.4, 3.7, 4.2, 6.0, 3.0, 5.1, 4.6, 2.8, 5.9, 4.3, 3.6, 6.5, 4.8, 3.3, 5.5,
  5.1, 4.1, 3.3, 5.9, 4.7, 2.6, 5.4, 3.8, 6.2, 4.4, 3.1, 5.7, 4.9, 6.7, 3.5, 4.2, 5.0, 2.9, 6.1, 4.6, 3.9, 5.3, 2.5, 4.8, 6.4,
  4.7, 6.0, 3.6, 4.3, 5.5, 3.0, 6.7, 4.9, 3.4, 5.2, 4.1, 2.7, 5.8, 4.5, 6.2, 3.2, 4.8, 5.6, 3.9, 2.5, 5.1, 4.4, 6.5, 3.7, 5.3,
  6.1, 3.8, 5.0, 4.2, 2.8, 5.6, 4.6, 3.3, 6.4, 4.0, 5.3, 3.6, 4.9, 2.6, 5.9, 4.4, 3.1, 5.5, 4.7, 6.8, 3.4, 4.1, 5.8, 3.0, 4.5,
  3.9, 5.5, 4.4, 6.3, 3.5, 4.8, 5.9, 2.9, 4.2, 5.1, 6.6, 3.7, 4.6, 5.4, 3.2, 6.0, 4.0, 2.7, 5.7, 4.3, 3.6, 5.0, 6.2, 4.7, 3.1,
  5.2, 4.5, 2.6, 5.7, 4.1, 6.2, 3.4, 5.0, 4.7, 3.0, 6.5, 4.3, 5.5, 3.8, 4.9, 2.8, 5.8, 4.0, 6.1, 3.3, 5.3, 4.6, 3.6, 5.9, 4.2,
  4.4, 5.7, 3.8, 4.9, 6.4, 3.1, 5.2, 4.0, 5.9, 2.7, 4.6, 6.1, 3.5, 5.0, 4.3, 6.7, 3.2, 5.5, 4.7, 3.9, 5.8, 2.9, 4.5, 6.3, 4.1
];

const width = 1051;
const height = 601;
const margin = { top: 59, right: 24, bottom: 65, left: 68 };

const svg = d3.select('#chart')
  .append('svg')
  .attr('width', width)
  .attr('height', height);

svg.append('rect').attr('width', width).attr('height', height).attr('fill', '#fff');

const xScale = d3.scaleLinear()
  .domain([-250, 5245])
  .range([margin.left, width - margin.right]);

const yScale = d3.scaleLinear()
  .domain([-2.14, 44.94])
  .range([height - margin.bottom, margin.top]);

// grid
const grid = svg.append('g').attr('stroke', '#d0d0d0').attr('stroke-width', 0.8).attr('stroke-dasharray', '3,2');
grid.selectAll('.gx').data(xTicks).enter().append('line')
  .attr('x1', d => xScale(d)).attr('x2', d => xScale(d))
  .attr('y1', margin.top).attr('y2', height - margin.bottom);
grid.selectAll('.gy').data(yTicks).enter().append('line')
  .attr('y1', d => yScale(d)).attr('y2', d => yScale(d))
  .attr('x1', margin.left).attr('x2', width - margin.right);

const marker = d3.symbol().type(d3.symbolX).size(56);

function drawSeries(values, offset, color) {
  svg.append('g')
    .selectAll('path')
    .data(values)
    .enter()
    .append('path')
    .attr('d', marker)
    .attr('transform', (d, i) => 'translate(' + xScale(i * SAMPLE_STEP + offset) + ',' + yScale(d) + ')')
    .attr('fill', 'none')
    .attr('stroke', color)
    .attr('stroke-opacity', 0.5)
    .attr('stroke-width', 2);
}

drawSeries(positiveDistance, 0, '#1b9e77');
drawSeries(positiveDistanceB, OFFSET_B, '#1b9e77');
drawSeries(positiveDistanceC, OFFSET_C, '#1b9e77');
drawSeries(negativeDistance, 0, '#ff0000');
drawSeries(negativeDistanceB, OFFSET_B, '#ff0000');
drawSeries(negativeDistanceC, OFFSET_C, '#ff0000');

// optimal threshold
svg.append('line')
  .attr('x1', margin.left).attr('x2', width - margin.right)
  .attr('y1', yScale(threshold)).attr('y2', yScale(threshold))
  .attr('stroke', '#008000')
  .attr('stroke-width', 2);

// axes
const xAxis = d3.axisBottom(xScale).tickValues(xTicks).tickFormat(d3.format('d'))
  .tickSizeInner(-4).tickSizeOuter(0).tickPadding(7);
const yAxis = d3.axisLeft(yScale).tickValues(yTicks).tickFormat(d3.format('d'))
  .tickSizeInner(-4).tickSizeOuter(0).tickPadding(7);

const gx = svg.append('g')
  .attr('transform', 'translate(0,' + (height - margin.bottom) + ')')
  .call(xAxis);
const gy = svg.append('g')
  .attr('transform', 'translate(' + margin.left + ',0)')
  .call(yAxis);

[gx, gy].forEach(g => {
  g.select('.domain').attr('stroke', '#333').attr('stroke-width', 1.5);
  g.selectAll('.tick line').attr('stroke', '#333').attr('stroke-width', 1.2);
  g.selectAll('.tick text').attr('fill', '#262626').style('font-size', '16.5px').style('font-family', 'DejaVu Sans');
});

svg.append('text')
  .attr('x', (margin.left + width - margin.right) / 2)
  .attr('y', 577)
  .attr('text-anchor', 'middle')
  .attr('fill', '#262626')
  .style('font-size', '17px')
  .text('Sample Index');

svg.append('text')
  .attr('transform', 'translate(32,' + ((margin.top + height - margin.bottom) / 2) + ') rotate(-90)')
  .attr('text-anchor', 'middle')
  .attr('fill', '#262626')
  .style('font-size', '17px')
  .text('Distance');

// legend
const legend = svg.append('g').attr('transform', 'translate(836,65)');
legend.append('rect')
  .attr('width', 184).attr('height', 71).attr('rx', 3)
  .attr('fill', '#fff').attr('fill-opacity', 0.8)
  .attr('stroke', '#cccccc');

const legendItems = [
  { label: 'Optimal Threshold', type: 'line', color: '#008000' },
  { label: 'Positive Distance', type: 'x', color: '#1b9e77' },
  { label: 'Negative Distance', type: 'x', color: '#ff0000' }
];

legendItems.forEach((item, i) => {
  const y = 13 + i * 21.5;
  if (item.type === 'line') {
    legend.append('line').attr('x1', 6).attr('x2', 38).attr('y1', y).attr('y2', y)
      .attr('stroke', item.color).attr('stroke-width', 2);
  } else {
    legend.append('path').attr('d', marker).attr('transform', 'translate(21,' + y + ')')
      .attr('fill', 'none').attr('stroke', item.color).attr('stroke-opacity', 0.5).attr('stroke-width', 2);
  }
  legend.append('text')
    .attr('x', 46).attr('y', y + 5)
    .attr('fill', '#262626')
    .style('font-size', '14px')
    .text(item.label);
});
</script>
</body>
</html>
